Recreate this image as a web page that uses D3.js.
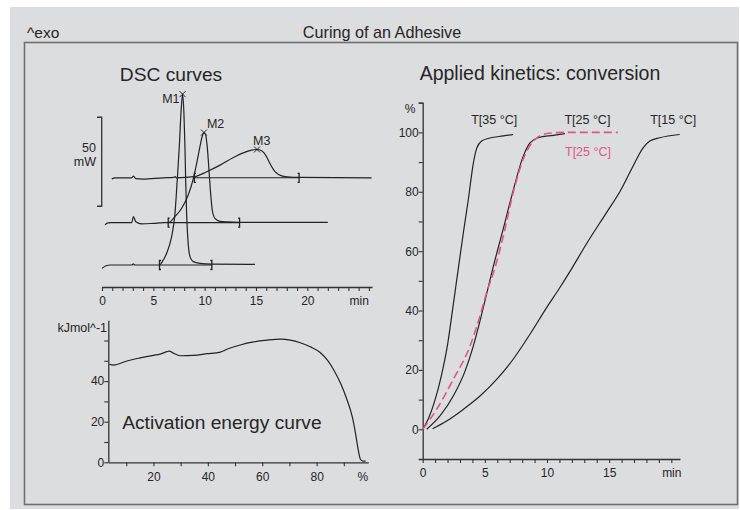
<!DOCTYPE html>
<html><head><meta charset="utf-8">
<script src="https://cdn.jsdelivr.net/npm/d3@7"></script>
<style>body{margin:0;background:#fff}svg{display:block}text{font-family:"Liberation Sans",Arial,sans-serif;fill:#262626}</style>
</head><body><svg id="c" width="740" height="510"></svg>
<script>
// ---------- DATA ----------
// DSC curves: [time (min), heat flow above own baseline (mW)]
const dscM1 = [[0,-1.9],[0.4,-0.4],[0.8,0],[2.9,0],[3.05,0.6],[3.2,0],[5.65,0],[5.81,1.3],[6.3,6.6],[6.78,15.9],[7.11,29],[7.33,47.8],[7.53,66.5],[7.69,85.2],[7.85,96],[7.98,85.2],[8.08,66.5],[8.15,47.8],[8.24,29],[8.37,14],[8.57,4.7],[8.89,1.9],[9.54,0.9],[10.68,0.5],[14.9,0.4]];
const dscM2 = [[0.3,-1.3],[0.5,-0.3],[0.8,0],[2.9,0],[3.05,3.4],[3.3,0.5],[3.87,-0.7],[5.0,-0.4],[6.0,0],[6.46,0],[7.11,3.4],[7.76,8.1],[8.41,15.7],[8.9,24.9],[9.22,33.3],[9.54,42.7],[9.77,48.7],[9.93,50.6],[10.09,49.3],[10.25,42.7],[10.42,29.6],[10.58,16.5],[10.74,7.1],[11.0,2.4],[11.49,0.75],[12.14,0.4],[13.4,0.2],[22.0,0.2]];
const dscM3 = [[0.95,-0.6],[1.3,0],[2.9,0],[3.05,0.9],[3.3,-0.5],[4.0,-0.7],[6.0,0],[7.0,0.2],[7.11,0.6],[7.25,0],[9.0,0.6],[10.2,3.4],[11.5,7.1],[12.8,11.4],[13.76,14],[14.57,15.5],[15.1,15.9],[15.55,15.2],[16.0,12.2],[16.36,8],[16.85,3.4],[17.5,1.1],[18.3,0.4],[19.2,0.2],[26.26,0]];
const dscNames = ["M1","M2","M3"];
const dscOffsets = [0, 23.8, 49];          // mW, vertical stacking of the curves
const dscLimits = [[5.6,10.7],[6.45,13.4],[9.0,19.2]]; // integration limits (min)
const dscScaleBar = [33, 83];              // 50 mW bar
const dscTicks = d3.range(0, 27, 1);
const dscTickLabels = [0,5,10,15,20,25];

// Activation energy: [conversion %, kJ/mol]
const actEnergy = [[3.8,48.3],[5.3,47.9],[10.2,49.9],[15.1,51.4],[20,52.7],[22.5,53.3],[24.9,54.5],[25.8,54.8],[27.4,53.7],[29.8,52.5],[34.7,52.7],[39.7,53.5],[44.6,54.3],[47,55.7],[51.9,57.8],[56.8,59.3],[61.8,60.2],[66.7,60.7],[70.3,60.2],[74,58.9],[77.7,56.9],[81.4,54],[83.9,50.4],[86.3,45.5],[88.8,38.9],[91.2,30.7],[93.1,22.5],[94.3,14.3],[95.3,6.1],[96.1,1.5],[97,0.6],[98,0.6]];
const actXTicks = [10,20,30,40,50,60,70,80,90];
const actXLabels = [20,40,60,80];
const actYTicks = [0,10,20,30,40,50,60];
const actYLabels = [0,20,40];

// Conversion: [time (min), conversion %]
const conv35 = [[0,0],[0.5,4],[1.0,10],[1.5,18],[2.0,28.5],[2.46,42],[2.78,51.6],[3.27,66.2],[3.67,77.4],[4.07,89.5],[4.34,94.6],[4.74,97.1],[5.41,98.1],[6.48,98.8],[7.28,99.3]];
const conv25 = [[0.32,0],[1.39,4.5],[2.46,11.2],[3.4,19.5],[4.07,28],[4.61,36.5],[5.14,45.5],[5.6,53.5],[6.48,67.5],[7.28,80.5],[8.09,92],[8.63,96.5],[9.29,98.2],[10.5,99],[11.44,99.6]];
const conv25sim = [[0,0],[1.12,6.7],[2.46,16.8],[3.8,28],[4.61,38.2],[5.14,46],[5.75,53.5],[6.48,65],[7.28,79.7],[8.09,91],[8.89,97],[9.97,99.6],[11.3,100],[15.7,100]];
const conv15 = [[0.8,0.2],[1.93,2.8],[3.26,6.7],[4.61,11.2],[5.95,16.8],[7.28,23.6],[8.63,32],[9.97,41],[11.0,47.5],[12.0,54.2],[13.18,62.5],[14.79,73],[15.86,80],[16.93,88.7],[17.73,94.8],[18.27,97.1],[19.07,98.2],[20.68,99.3]];
const convLabels = [["T[35 °C]",5.75,102.8],["T[25 °C]",13.25,102.8],["T[15 °C]",20.15,102.8]];
const convSimLabel = ["T[25 °C]",13.3,91.9];
const convXTicks = d3.range(0, 21, 1);
const convXLabels = [0,5,10,15,20];
const convYTicks = d3.range(0, 111, 10);
const convYLabels = [0,20,40,60,80,100];

// ---------- DRAWING ----------
const svg = d3.select("#c");
const ink = "#222", axisCol = "#333", pink = "#e0558a";
const F = "Liberation Sans, Arial, sans-serif";

svg.append("rect").attr("x",10).attr("y",7).attr("width",729).attr("height",502).attr("fill","#dcdddf");
svg.append("rect").attr("x",24.5).attr("y",42.5).attr("width",713).attr("height",462)
  .attr("fill","none").attr("stroke","#6f6f6f").attr("stroke-width",1.6);
svg.append("text").attr("x",27).attr("y",38).attr("font-size",15.5).text("^exo");
svg.append("text").attr("x",382).attr("y",38).attr("font-size",16.2).attr("text-anchor","middle").text("Curing of an Adhesive");
svg.append("text").attr("x",171).attr("y",81).attr("font-size",19.2).attr("text-anchor","middle").text("DSC curves");
svg.append("text").attr("x",540).attr("y",80).attr("font-size",19.5).attr("text-anchor","middle").text("Applied kinetics: conversion");

function styleAxis(g){
  g.selectAll("path.domain").attr("stroke",axisCol).attr("stroke-width",1.3);
  g.selectAll(".tick line").attr("stroke",axisCol).attr("stroke-width",1.1);
  g.selectAll(".tick text").attr("font-size",12).attr("font-family",F).attr("fill","#2a2a2a");
}

// ---- DSC ----
const xD = d3.scaleLinear().domain([0,26.3]).range([102,372]);
const yD = d3.scaleLinear().domain([0,100]).range([265,87]);
const gDx = svg.append("g").attr("transform","translate(0,287)")
  .call(d3.axisBottom(xD).tickValues(dscTicks).tickSize(4).tickSizeOuter(0)
    .tickFormat(d => dscTickLabels.includes(d) ? (d===25 ? "min" : d) : ""));
styleAxis(gDx);
gDx.selectAll(".tick text").attr("dy","0.95em");

// scale bar
svg.append("path").attr("fill","none").attr("stroke",axisCol).attr("stroke-width",1.3)
  .attr("d",`M${97},${yD(dscScaleBar[1])}H${101.7}V${yD(dscScaleBar[0])}H${97}`);
svg.append("text").attr("x",96).attr("y",152).attr("font-size",12.5).attr("text-anchor","end").text("50");
svg.append("text").attr("x",96).attr("y",166).attr("font-size",12.5).attr("text-anchor","end").text("mW");

const dscData = [dscM1, dscM2, dscM3];
const lineD = (off) => d3.line().x(d=>xD(d[0])).y(d=>yD(d[1]+off)).curve(d3.curveMonotoneX);
dscData.forEach((ser,i)=>{
  const off = dscOffsets[i];
  svg.append("line").attr("x1",xD(dscLimits[i][0])).attr("x2",xD(dscLimits[i][1]))
    .attr("y1",yD(off)).attr("y2",yD(off)).attr("stroke",ink).attr("stroke-width",1.1);
  svg.append("path").datum(ser).attr("fill","none").attr("stroke",ink).attr("stroke-width",1.2)
    .attr("d",lineD(off));
  dscLimits[i].forEach((t,j)=>{
    const x = xD(t), y = yD(off), s = j===0 ? 1.5 : -1.5;
    svg.append("path").attr("fill","none").attr("stroke",ink).attr("stroke-width",1.3)
      .attr("d",`M${x+s},${y-4.5}H${x}V${y+4.5}H${x+s}`);
  });
  const pk = ser.reduce((a,b)=> b[1]>a[1]?b:a);
  const px = xD(pk[0]), py = yD(pk[1]+off);
  svg.append("path").attr("stroke",ink).attr("stroke-width",1)
    .attr("d",`M${px-3},${py-3}L${px+3},${py+3}M${px-3},${py+3}L${px+3},${py-3}`);
  const lab = svg.append("text").attr("font-size",12.5).text(dscNames[i]);
  if(i===0) lab.attr("x",px-3).attr("y",py+9).attr("text-anchor","end");
  if(i===1) lab.attr("x",px+3).attr("y",py-5);
  if(i===2) lab.attr("x",px-4).attr("y",py-4);
});

// ---- Activation energy ----
const xA = d3.scaleLinear().domain([3.4,99]).range([108.3,368.3]);
const yA = d3.scaleLinear().domain([0,70]).range([462.3,320.2]);
const gAx = svg.append("g").attr("transform","translate(0,462.3)")
  .call(d3.axisBottom(xA).tickValues(actXTicks).tickSize(4).tickSizeOuter(0)
   .tickFormat(d=> actXLabels.includes(d)? d : ""));
styleAxis(gAx);
gAx.selectAll(".tick text").attr("dy","0.95em");
const gAy = svg.append("g").attr("transform","translate(108.3,0)")
  .call(d3.axisLeft(yA).tickValues(actYTicks).tickSize(4).tickSizeOuter(0)
   .tickFormat(d=> actYLabels.includes(d)? d : ""));
styleAxis(gAy);
gAy.selectAll(".tick text").attr("dx","0.25em");
svg.append("text").attr("x",xA(97)).attr("y",481).attr("font-size",12).attr("text-anchor","middle").text("%");
svg.append("text").attr("x",107).attr("y",332).attr("font-size",12.5).attr("text-anchor","end").text("kJmol^-1");
svg.append("path").datum(actEnergy).attr("fill","none").attr("stroke",ink).attr("stroke-width",1.2)
  .attr("d", d3.line().x(d=>xA(d[0])).y(d=>yA(d[1])).curve(d3.curveMonotoneX));
svg.append("text").attr("x",xA(8.5)).attr("y",yA(16.5)).attr("font-size",19.2).text("Activation energy curve");

// ---- Conversion ----
const xC = d3.scaleLinear().domain([0,20.7]).range([422.7,680]);
const yC = d3.scaleLinear().domain([-10,110]).range([459,102.7]);
const gCx = svg.append("g").attr("transform","translate(0,459)")
  .call(d3.axisBottom(xC).tickValues(convXTicks).tickSize(4).tickSizeOuter(0)
   .tickFormat(d=> convXLabels.includes(d)? (d===20?"min":d) : ""));
styleAxis(gCx);
gCx.selectAll(".tick text").attr("dy","0.95em");
const gCy = svg.append("g").attr("transform","translate(422.7,0)")
  .call(d3.axisLeft(yC).tickValues(convYTicks).tickSize(4).tickSizeOuter(4)
   .tickFormat(d=> convYLabels.includes(d)? d : ""));
styleAxis(gCy);
gCy.selectAll(".tick text").attr("dx","0.25em");
svg.append("text").attr("x",410).attr("y",113).attr("font-size",12).attr("text-anchor","middle").text("%");

const lineC = d3.line().x(d=>xC(d[0])).y(d=>yC(d[1])).curve(d3.curveMonotoneX);
[conv35, conv25, conv15].forEach(s=>{
  svg.append("path").datum(s).attr("fill","none").attr("stroke",ink).attr("stroke-width",1.2).attr("d",lineC);
});
svg.append("path").datum(conv25sim).attr("fill","none").attr("stroke",pink).attr("stroke-width",1.6)
  .attr("stroke-dasharray","8,4").attr("d",lineC);
convLabels.forEach(l=>{
  svg.append("text").attr("x",xC(l[1])).attr("y",yC(l[2])).attr("font-size",12.5).attr("text-anchor","middle").text(l[0]);
});
svg.append("text").attr("x",xC(convSimLabel[1])).attr("y",yC(convSimLabel[2])).attr("font-size",12.5)
  .attr("text-anchor","middle").style("fill",pink).text(convSimLabel[0]);
</script></body></html>
